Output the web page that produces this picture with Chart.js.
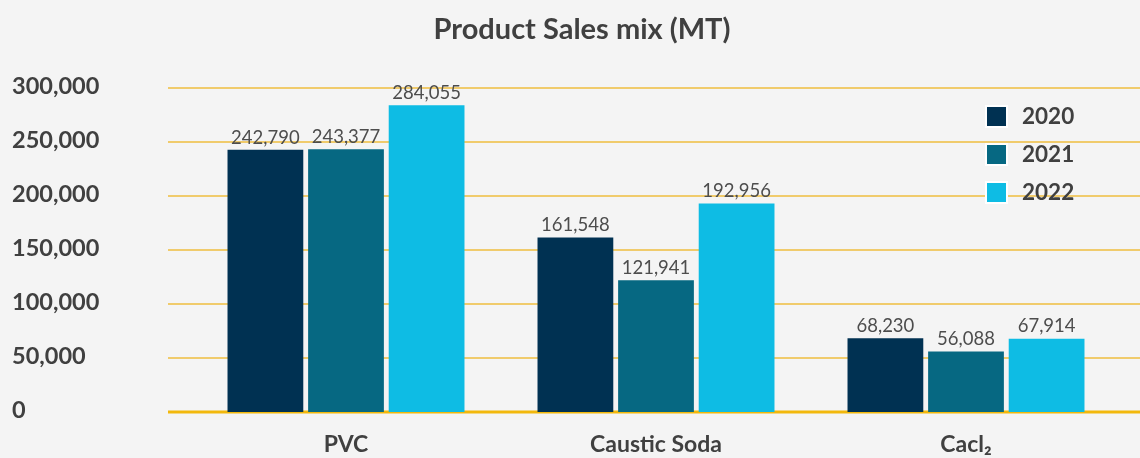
<!DOCTYPE html>
<html>
<head>
<meta charset="utf-8">
<title>Product Sales mix (MT)</title>
<script src="https://cdn.jsdelivr.net/npm/chart.js@4"></script>
<style>
    html, body { margin: 0; padding: 0; background: #f4f4f4; }
    #wrap { width: 1140px; height: 458px; }
</style>
</head>
<body>
<div id="wrap"><canvas id="sales_mix_plot"></canvas></div>
<script>
'use strict';

// Sales volume by product, metric tonnes
const products = ['PVC', 'Caustic Soda', 'Cacl\u2082'];
const years = ['2020', '2021', '2022'];
const sales2020 = [242790, 161548, 68230];
const sales2021 = [243377, 121941, 56088];
const sales2022 = [284055, 192956, 67914];
const yearColors = ['#003152', '#066882', '#0ebce4'];

const TEXT = '#404040';
const FONT = 'Lato, "Open Sans", sans-serif';

const fmt = v => v.toLocaleString('en-US');

// Gold gridlines running past the plot edges, heavier at zero
const gridPlugin = {
    id: 'goldGrid',
    beforeDatasetsDraw(chart) {
        const ctx = chart.ctx;
        const y = chart.scales.y;
        ctx.save();
        y.ticks.forEach(t => {
            const py = Math.round(y.getPixelForValue(t.value));
            ctx.beginPath();
            if (t.value === 0) {
                ctx.strokeStyle = '#f2b80c';
                ctx.lineWidth = 3;
            } else {
                ctx.strokeStyle = '#efbe3f';
                ctx.lineWidth = 1.5;
            }
            ctx.moveTo(168, py);
            ctx.lineTo(chart.width, py);
            ctx.stroke();
        });
        ctx.restore();
    }
};

// Value labels above each bar, title and legend block
const labelPlugin = {
    id: 'barLabels',
    afterDatasetsDraw(chart) {
        const ctx = chart.ctx;
        ctx.save();
        ctx.font = '18.5px ' + FONT;
        ctx.fillStyle = '#4d4d4d';
        ctx.textAlign = 'center';
        ctx.textBaseline = 'bottom';
        chart.data.datasets.forEach((ds, i) => {
            chart.getDatasetMeta(i).data.forEach((bar, j) => {
                ctx.fillText(fmt(ds.data[j]), bar.x, bar.y - 3);
            });
        });

        // title
        ctx.font = 'bold 29px ' + FONT;
        ctx.fillStyle = TEXT;
        ctx.textBaseline = 'middle';
        ctx.fillText('Product Sales mix (MT)', 582, 30);

        // legend
        ctx.textAlign = 'left';
        ctx.font = 'bold 22.5px ' + FONT;
        chart.data.datasets.forEach((ds, i) => {
            const cy = 117 + i * 38;
            ctx.fillStyle = '#ffffff';
            ctx.fillRect(985, cy - 12, 23, 23);
            ctx.fillStyle = ds.backgroundColor;
            ctx.fillRect(987, cy - 10, 19, 19);
            ctx.fillStyle = TEXT;
            ctx.fillText(ds.label, 1022, cy);
        });
        ctx.restore();
    }
};

new Chart(document.getElementById('sales_mix_plot').getContext('2d'), {
    type: 'bar',
    data: {
        labels: products,
        datasets: [sales2020, sales2021, sales2022].map((vals, i) => ({
            label: years[i],
            data: vals,
            backgroundColor: yearColors[i],
            borderWidth: 0,
            categoryPercentage: 0.78,
            barPercentage: 0.94
        }))
    },
    options: {
        responsive: true,
        maintainAspectRatio: false,
        animation: false,
        layout: { padding: { left: 12, right: 19, top: 88, bottom: 0 } },
        plugins: {
            legend: { display: false },
            title: { display: false },
            tooltip: { enabled: false }
        },
        scales: {
            x: {
                grid: { display: false, drawTicks: false },
                border: { display: false },
                ticks: {
                    color: TEXT,
                    font: { family: FONT, size: 23, weight: 'bold' },
                    padding: 19
                },
                afterFit(scale) { scale.height = 46; }
            },
            y: {
                min: 0,
                max: 300000,
                grid: { display: false, drawTicks: false },
                border: { display: false },
                ticks: {
                    stepSize: 50000,
                    crossAlign: 'far',
                    labelOffset: -2,
                    color: TEXT,
                    font: { family: FONT, size: 23.5, weight: 'bold' },
                    callback: v => fmt(v)
                },
                afterFit(scale) { scale.width = 179; }
            }
        }
    },
    plugins: [gridPlugin, labelPlugin]
});
</script>
</body>
</html>
